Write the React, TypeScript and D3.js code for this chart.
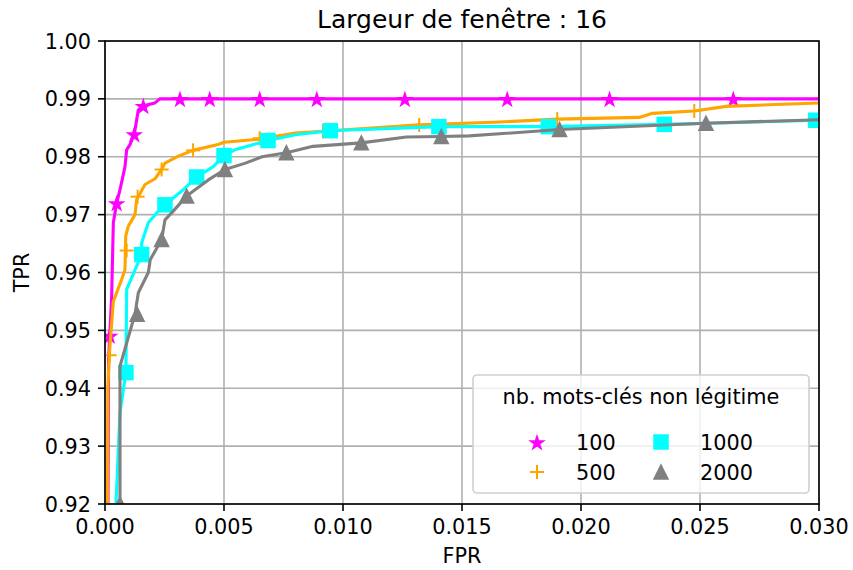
import * as d3 from "d3"

// ROC curves, window width 16
const fpr100 = [0.00012, 0.00015, 0.0002, 0.00028, 0.00035, 0.00049, 0.00063, 0.00084, 0.00091, 0.00105, 0.00123, 0.0014, 0.00161, 0.0021, 0.0023, 0.03]
const tpr100 = [0.915, 0.945, 0.9491, 0.9559, 0.9686, 0.972, 0.9743, 0.9783, 0.9812, 0.9821, 0.9839, 0.9881, 0.9888, 0.9893, 0.99, 0.99]
const mkFpr100 = [0.0002, 0.00049, 0.00123, 0.00161, 0.00315, 0.0044, 0.0065, 0.0089, 0.0126, 0.0169, 0.0212, 0.0264]
const mkTpr100 = [0.9491, 0.972, 0.9839, 0.9888, 0.99, 0.99, 0.99, 0.99, 0.99, 0.99, 0.99, 0.99]

const fpr500 = [0.0001, 0.00012, 0.00018, 0.00035, 0.0007, 0.00084, 0.00087, 0.00098, 0.00126, 0.00133, 0.00168, 0.0021, 0.00238, 0.00252, 0.00308, 0.0037, 0.00475, 0.005, 0.0064, 0.008, 0.00916, 0.0132, 0.0166, 0.019, 0.02245, 0.023, 0.02476, 0.0261, 0.03]
const tpr500 = [0.915, 0.94, 0.9457, 0.955, 0.9588, 0.9605, 0.9663, 0.968, 0.97, 0.9726, 0.9752, 0.9762, 0.9778, 0.9789, 0.9801, 0.9811, 0.9821, 0.9825, 0.983, 0.9841, 0.9844, 0.9855, 0.986, 0.9865, 0.9868, 0.9875, 0.9879, 0.9887, 0.9893]
const mkFpr500 = [0.0002, 0.00091, 0.00137, 0.00238, 0.0037, 0.0065, 0.00916, 0.0132, 0.019, 0.02476]
const mkTpr500 = [0.9457, 0.9638, 0.9731, 0.9778, 0.9811, 0.9832, 0.9844, 0.9855, 0.9865, 0.9879]

const fpr1000 = [0.00046, 0.00046, 0.00063, 0.00088, 0.00091, 0.00133, 0.00154, 0.00154, 0.00182, 0.00217, 0.00252, 0.00329, 0.00385, 0.00455, 0.005, 0.00545, 0.00685, 0.008, 0.00947, 0.01403, 0.01863, 0.0235, 0.03]
const tpr1000 = [0.915, 0.92, 0.9358, 0.9427, 0.9571, 0.9611, 0.9631, 0.9651, 0.9686, 0.9703, 0.9717, 0.9743, 0.9765, 0.9783, 0.9802, 0.9812, 0.9828, 0.9838, 0.9845, 0.9852, 0.9852, 0.9856, 0.9863]
const mkFpr1000 = [0.00088, 0.00154, 0.00252, 0.00385, 0.005, 0.00685, 0.00947, 0.01403, 0.01863, 0.0235, 0.02986]
const mkTpr1000 = [0.9427, 0.9631, 0.9717, 0.9765, 0.9802, 0.9828, 0.9845, 0.9852, 0.9852, 0.9856, 0.9863]

const fpr2000 = [0.00063, 0.00063, 0.00126, 0.0014, 0.00182, 0.0019, 0.00238, 0.00252, 0.0028, 0.00343, 0.00434, 0.00504, 0.0059, 0.0066, 0.00762, 0.00874, 0.01077, 0.01266, 0.01413, 0.0153, 0.0191, 0.02525, 0.03]
const tpr2000 = [0.915, 0.9438, 0.9528, 0.9565, 0.96, 0.9622, 0.9657, 0.9691, 0.9703, 0.9732, 0.976, 0.9778, 0.9789, 0.98, 0.9807, 0.9818, 0.9824, 0.9834, 0.9835, 0.9836, 0.9847, 0.9858, 0.9864]
const mkFpr2000 = [0.00063, 0.00135, 0.00238, 0.00343, 0.00504, 0.00762, 0.01077, 0.01413, 0.0191, 0.02525]
const mkTpr2000 = [0.92, 0.9528, 0.9657, 0.9732, 0.9778, 0.9807, 0.9824, 0.9835, 0.9847, 0.9858]

const xTicks = [0, 0.005, 0.01, 0.015, 0.02, 0.025, 0.03]
const yTicks = [0.92, 0.93, 0.94, 0.95, 0.96, 0.97, 0.98, 0.99, 1.0]

const W = 853
const H = 570
const FONT = "DejaVu Sans"
const FS = 20.8
const margin = { left: 105, right: 34, top: 41, bottom: 66 }

type Series = {
  label: string
  color: string
  marker: string
  fpr: number[]
  tpr: number[]
  mkFpr: number[]
  mkTpr: number[]
}

const series: Series[] = [
  { label: "100", color: "#ff00ff", marker: "star", fpr: fpr100, tpr: tpr100, mkFpr: mkFpr100, mkTpr: mkTpr100 },
  { label: "500", color: "#ffa500", marker: "plus", fpr: fpr500, tpr: tpr500, mkFpr: mkFpr500, mkTpr: mkTpr500 },
  { label: "1000", color: "#00ffff", marker: "square", fpr: fpr1000, tpr: tpr1000, mkFpr: mkFpr1000, mkTpr: mkTpr1000 },
  { label: "2000", color: "#808080", marker: "triangle", fpr: fpr2000, tpr: tpr2000, mkFpr: mkFpr2000, mkTpr: mkTpr2000 },
]

const starPath = d3.symbol(d3.symbolStar, 50)()

function Marker({ kind, x, y, color }: { kind: string; x: number; y: number; color: string }) {
  if (kind === "plus") {
    return (
      <g transform={`translate(${x},${y})`} stroke={color} strokeWidth={2}>
        <line x1={-7} x2={7} y1={0} y2={0} />
        <line x1={0} x2={0} y1={-7} y2={7} />
      </g>
    )
  }
  if (kind === "square") {
    return <rect x={x - 7} y={y - 7} width={14} height={14} fill={color} stroke={color} strokeWidth={1.5} />
  }
  if (kind === "triangle") {
    return <path d={`M${x},${y - 7}L${x + 7},${y + 7}L${x - 7},${y + 7}Z`} fill={color} stroke={color} strokeWidth={1.5} strokeLinejoin="miter" />
  }
  return <path d={starPath || ""} transform={`translate(${x},${y + 1})`} fill={color} stroke={color} strokeWidth={1.6} strokeLinejoin="miter" />
}

export default function App() {
  const x = d3.scaleLinear().domain([0, 0.03]).range([margin.left, W - margin.right])
  const y = d3.scaleLinear().domain([0.92, 1.0]).range([H - margin.bottom, margin.top])
  const line = d3.line<[number, number]>().x((d) => x(d[0])).y((d) => y(d[1]))

  const x0 = x(0)
  const x1 = x(0.03)
  const y0 = y(0.92)
  const y1 = y(1.0)

  const legend = { x: 473, y: 375, w: 336, h: 118 }
  const legendItems = [
    { s: series[0], mx: 537, tx: 576, ty: 450 },
    { s: series[1], mx: 537, tx: 576, ty: 480 },
    { s: series[2], mx: 661, tx: 700, ty: 450 },
    { s: series[3], mx: 661, tx: 700, ty: 480 },
  ]

  return (
    <svg width={W} height={H} style={{ position: "absolute", left: 0, top: 0, background: "#fff" }} fontFamily={FONT}>
      <defs>
        <clipPath id="plot">
          <rect x={x0} y={y1} width={x1 - x0} height={y0 - y1} />
        </clipPath>
      </defs>
      <rect x={0} y={0} width={W} height={H} fill="#fff" />

      {/* grid */}
      <g stroke="#b0b0b0" strokeWidth={1.6}>
        {xTicks.map((t) => (
          <line key={"gx" + t} x1={x(t)} x2={x(t)} y1={y1} y2={y0} />
        ))}
        {yTicks.map((t) => (
          <line key={"gy" + t} x1={x0} x2={x1} y1={y(t)} y2={y(t)} />
        ))}
      </g>

      {/* curves */}
      <g clipPath="url(#plot)">
        {series.map((s) => (
          <g key={s.label}>
            <path
              d={line(s.fpr.map((f, i) => [f, s.tpr[i]] as [number, number])) || ""}
              fill="none"
              stroke={s.color}
              strokeWidth={3.1}
              strokeLinejoin="round"
            />
            {s.mkFpr.map((f, i) => (
              <Marker key={i} kind={s.marker} x={x(f)} y={y(s.mkTpr[i])} color={s.color} />
            ))}
          </g>
        ))}
      </g>

      {/* spines */}
      <rect x={x0} y={y1} width={x1 - x0} height={y0 - y1} fill="none" stroke="#000" strokeWidth={1.6} />

      {/* x axis */}
      {xTicks.map((t) => (
        <g key={"xt" + t}>
          <line x1={x(t)} x2={x(t)} y1={y0} y2={y0 + 7} stroke="#000" strokeWidth={1.6} />
          <text x={x(t)} y={y0 + 30} textAnchor="middle" fontSize={FS}>
            {d3.format(".3f")(t)}
          </text>
        </g>
      ))}
      {/* y axis */}
      {yTicks.map((t) => (
        <g key={"yt" + t}>
          <line x1={x0 - 7} x2={x0} y1={y(t)} y2={y(t)} stroke="#000" strokeWidth={1.6} />
          <text x={x0 - 14} y={y(t) + 7.5} textAnchor="end" fontSize={FS}>
            {d3.format(".2f")(t)}
          </text>
        </g>
      ))}

      <text x={(x0 + x1) / 2} y={563} textAnchor="middle" fontSize={FS}>FPR</text>
      <text transform={`translate(29,${(y0 + y1) / 2}) rotate(-90)`} textAnchor="middle" fontSize={FS}>TPR</text>
      <text x={(x0 + x1) / 2} y={28} textAnchor="middle" fontSize={25}>Largeur de fenêtre : 16</text>

      {/* legend */}
      <rect x={legend.x} y={legend.y} width={legend.w} height={legend.h} rx={4} fill="#fff" fillOpacity={0.8} stroke="#d0d0d0" strokeWidth={1.6} />
      <text x={legend.x + legend.w / 2} y={404} textAnchor="middle" fontSize={FS}>nb. mots-clés non légitime</text>
      {legendItems.map((it) => (
        <g key={"lg" + it.s.label}>
          <Marker kind={it.s.marker} x={it.mx} y={it.ty - 8} color={it.s.color} />
          <text x={it.tx} y={it.ty} fontSize={FS}>{it.s.label}</text>
        </g>
      ))}
    </svg>
  )
}
